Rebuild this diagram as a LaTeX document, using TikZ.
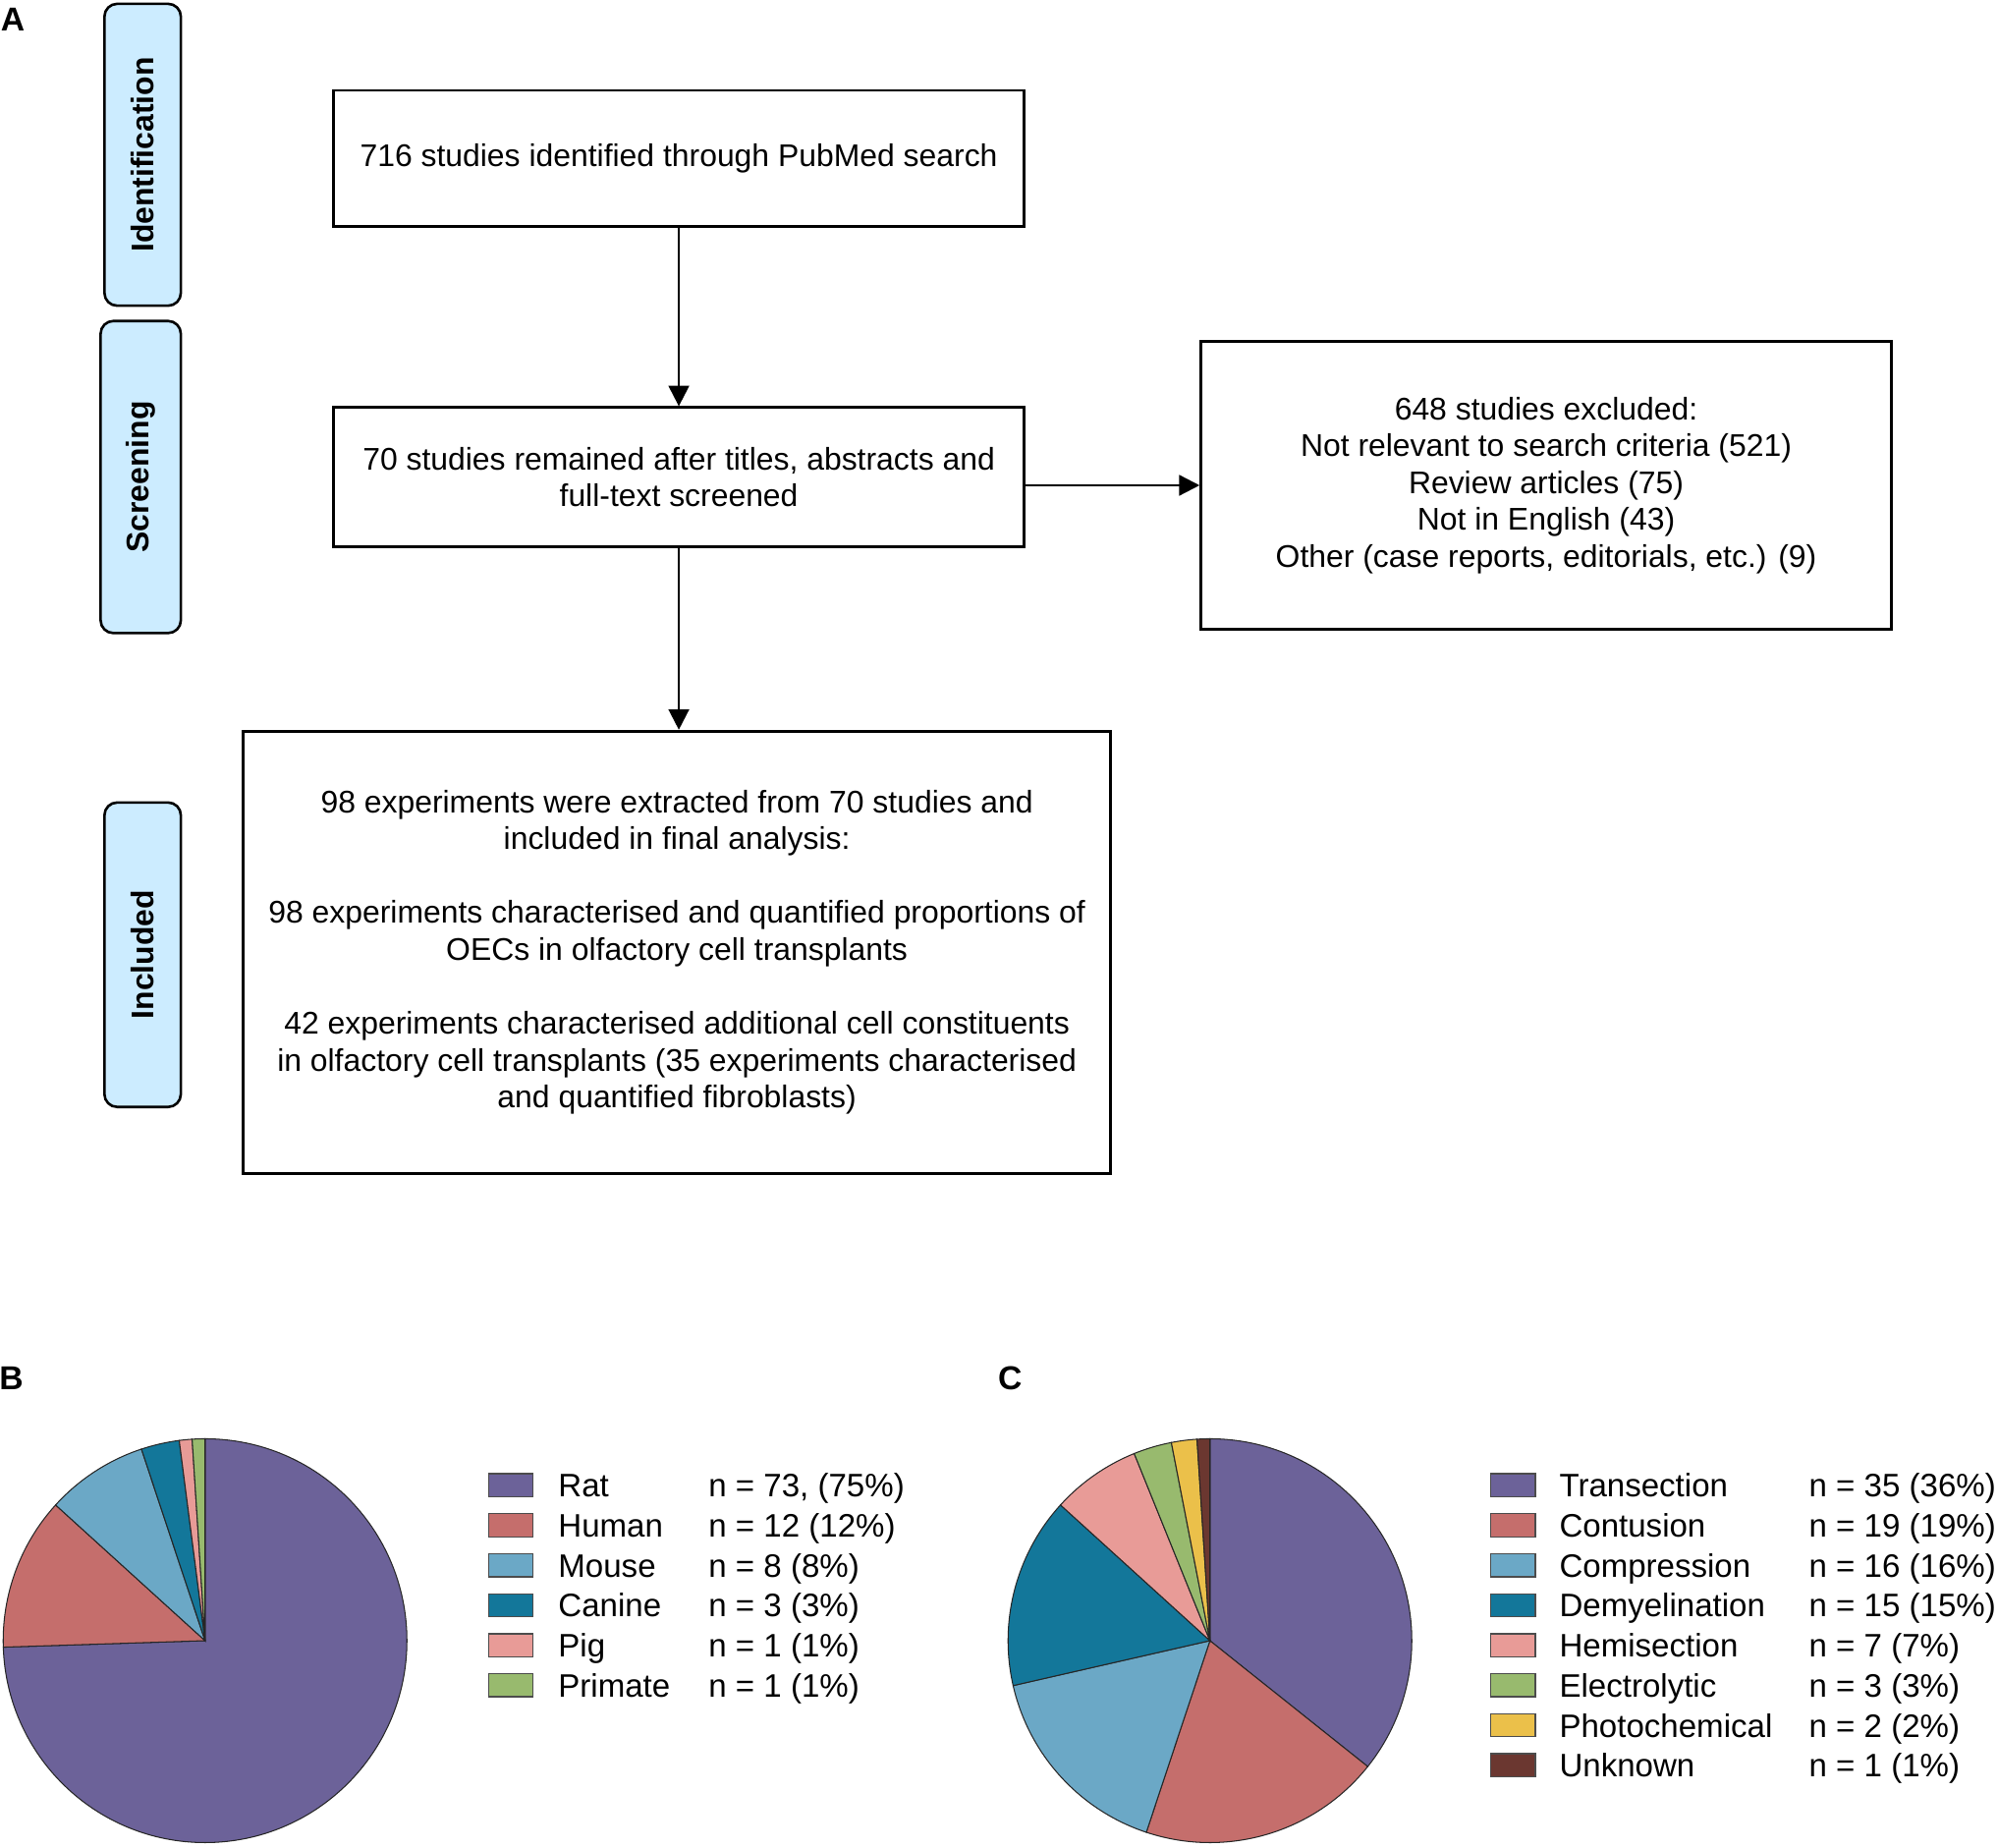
\documentclass[tikz,border=0pt]{standalone}
\usepackage{fontspec}
\setmainfont{Liberation Sans}
\usetikzlibrary{arrows.meta}

\definecolor{tabblue}{RGB}{204,236,255}
\definecolor{ratcol}{RGB}{108,98,153}
\definecolor{humancol}{RGB}{197,110,108}
\definecolor{mousecol}{RGB}{107,168,198}
\definecolor{caninecol}{RGB}{19,119,154}
\definecolor{pigcol}{RGB}{232,155,151}
\definecolor{primatecol}{RGB}{152,186,110}
\definecolor{photocol}{RGB}{235,192,74}
\definecolor{unknowncol}{RGB}{107,55,48}

\begin{document}
\begin{tikzpicture}[x=0.5pt,y=-0.5pt,
    box/.style={draw, line width=1.1pt, align=center, inner sep=0pt,
        font=\fontsize{12.3}{14.5}\selectfont},
    tab/.style={draw, line width=1pt, rounded corners=5pt, fill=tabblue,
        rotate=90, inner sep=0pt, font=\fontsize{12.3}{14.5}\selectfont\bfseries},
    flow/.style={-{Triangle[length=8pt,width=8pt]}, line width=0.9pt},
    slice/.style={draw=black!85, line width=0.4pt},
    key/.style={draw=black!70, line width=0.5pt, minimum width=17.4pt,
        minimum height=9pt, inner sep=0pt},
    lbl/.style={anchor=west, inner sep=0pt, text height=9.2pt, text depth=0pt,
        font=\fontsize{12.75}{15}\selectfont},
    panel/.style={inner sep=0pt, font=\fontsize{13}{15}\selectfont\bfseries}]

    \useasboundingbox (0,0) rectangle (1568,1450);

    % panel letters
    \node[panel] (pA) at (10,15) {A};
    \node[panel] (pB) at (9,1082) {B};
    \node[panel] (pC) at (793,1082) {C};

    % stage tabs
    \node[tab, minimum width=118.5pt, minimum height=30pt] (tabid) at (112,121.5) {Identification};
    \node[tab, minimum width=122.5pt, minimum height=31.5pt] (tabscr) at (110.5,374.5) {Screening};
    \node[tab, minimum width=119.5pt, minimum height=30pt] (tabinc) at (112,749.5) {Included};

    % flow boxes
    \node[box, minimum width=271pt, minimum height=53.5pt] (found) at (533,124.5)
        {716 studies identified through PubMed search};
    \node[box, minimum width=271pt, minimum height=54.5pt] (screened) at (533,374.5)
        {70 studies remained after titles, abstracts and\\full-text screened};
    \node[box, minimum width=271pt, minimum height=113pt] (excluded) at (1214,381)
        {648 studies excluded:\\Not relevant to search criteria (521)\\Review articles (75)\\
         Not in English (43)\\Other (case reports, editorials, etc.) (9)};
    \node[box, minimum width=340.5pt, minimum height=173.5pt] (included) at (531.5,747.5)
        {98 experiments were extracted from 70 studies and\\included in final analysis:\\[14.5pt]
         98 experiments characterised and quantified proportions of\\
         OECs in olfactory cell transplants\\[14.5pt]
         42 experiments characterised additional cell constituents\\
         in olfactory cell transplants (35 experiments characterised\\
         and quantified fibroblasts)};

    % arrows
    \draw[flow] (found.south) -- (screened.north);
    \draw[flow] (screened.east |- excluded.west) -- (excluded.west);
    \draw[flow] (screened.south) -- (screened.south |- included.north);

    % pie B: species
    \begin{scope}[shift={(161,1288)}, x=0.5pt, y=0.5pt]
        \def\r{158.5}
        \filldraw[slice, fill=ratcol] (0,0) -- (90:\r) arc[start angle=90, end angle=-178.16, radius=\r] -- cycle;
        \filldraw[slice, fill=humancol] (0,0) -- (-178.16:\r) arc[start angle=-178.16, end angle=-222.24, radius=\r] -- cycle;
        \filldraw[slice, fill=mousecol] (0,0) -- (-222.24:\r) arc[start angle=-222.24, end angle=-251.63, radius=\r] -- cycle;
        \filldraw[slice, fill=caninecol] (0,0) -- (-251.63:\r) arc[start angle=-251.63, end angle=-262.65, radius=\r] -- cycle;
        \filldraw[slice, fill=pigcol] (0,0) -- (-262.65:\r) arc[start angle=-262.65, end angle=-266.33, radius=\r] -- cycle;
        \filldraw[slice, fill=primatecol] (0,0) -- (-266.33:\r) arc[start angle=-266.33, end angle=-270, radius=\r] -- cycle;
    \end{scope}

    % legend B
    \node[key, fill=ratcol] (kRat) at (401,1166) {};
    \node[lbl] (lRat) at (438,1166) {Rat};
    \node[lbl] (nRat) at (556,1166) {n = 73, (75\%)};
    \node[key, fill=humancol] (kHuman) at (401,1197.4) {};
    \node[lbl] (lHuman) at (438,1197.4) {Human};
    \node[lbl] (nHuman) at (556,1197.4) {n = 12 (12\%)};
    \node[key, fill=mousecol] (kMouse) at (401,1228.8) {};
    \node[lbl] (lMouse) at (438,1228.8) {Mouse};
    \node[lbl] (nMouse) at (556,1228.8) {n = 8 (8\%)};
    \node[key, fill=caninecol] (kCanine) at (401,1260.2) {};
    \node[lbl] (lCanine) at (438,1260.2) {Canine};
    \node[lbl] (nCanine) at (556,1260.2) {n = 3 (3\%)};
    \node[key, fill=pigcol] (kPig) at (401,1291.6) {};
    \node[lbl] (lPig) at (438,1291.6) {Pig};
    \node[lbl] (nPig) at (556,1291.6) {n = 1 (1\%)};
    \node[key, fill=primatecol] (kPrimate) at (401,1323) {};
    \node[lbl] (lPrimate) at (438,1323) {Primate};
    \node[lbl] (nPrimate) at (556,1323) {n = 1 (1\%)};

    % pie C: injury models
    \begin{scope}[shift={(950,1288)}, x=0.5pt, y=0.5pt]
        \def\r{158.5}
        \filldraw[slice, fill=ratcol] (0,0) -- (90:\r) arc[start angle=90, end angle=-38.57, radius=\r] -- cycle;
        \filldraw[slice, fill=humancol] (0,0) -- (-38.57:\r) arc[start angle=-38.57, end angle=-108.37, radius=\r] -- cycle;
        \filldraw[slice, fill=mousecol] (0,0) -- (-108.37:\r) arc[start angle=-108.37, end angle=-167.14, radius=\r] -- cycle;
        \filldraw[slice, fill=caninecol] (0,0) -- (-167.14:\r) arc[start angle=-167.14, end angle=-222.24, radius=\r] -- cycle;
        \filldraw[slice, fill=pigcol] (0,0) -- (-222.24:\r) arc[start angle=-222.24, end angle=-247.96, radius=\r] -- cycle;
        \filldraw[slice, fill=primatecol] (0,0) -- (-247.96:\r) arc[start angle=-247.96, end angle=-258.98, radius=\r] -- cycle;
        \filldraw[slice, fill=photocol] (0,0) -- (-258.98:\r) arc[start angle=-258.98, end angle=-266.33, radius=\r] -- cycle;
        \filldraw[slice, fill=unknowncol] (0,0) -- (-266.33:\r) arc[start angle=-266.33, end angle=-270, radius=\r] -- cycle;
    \end{scope}

    % legend C
    \node[key, fill=ratcol] (kTrans) at (1188,1166) {};
    \node[lbl] (lTrans) at (1224,1166) {Transection};
    \node[lbl] (nTrans) at (1420,1166) {n = 35 (36\%)};
    \node[key, fill=humancol] (kCont) at (1188,1197.4) {};
    \node[lbl] (lCont) at (1224,1197.4) {Contusion};
    \node[lbl] (nCont) at (1420,1197.4) {n = 19 (19\%)};
    \node[key, fill=mousecol] (kComp) at (1188,1228.8) {};
    \node[lbl] (lComp) at (1224,1228.8) {Compression};
    \node[lbl] (nComp) at (1420,1228.8) {n = 16 (16\%)};
    \node[key, fill=caninecol] (kDemy) at (1188,1260.2) {};
    \node[lbl] (lDemy) at (1224,1260.2) {Demyelination};
    \node[lbl] (nDemy) at (1420,1260.2) {n = 15 (15\%)};
    \node[key, fill=pigcol] (kHemi) at (1188,1291.6) {};
    \node[lbl] (lHemi) at (1224,1291.6) {Hemisection};
    \node[lbl] (nHemi) at (1420,1291.6) {n = 7 (7\%)};
    \node[key, fill=primatecol] (kElec) at (1188,1323) {};
    \node[lbl] (lElec) at (1224,1323) {Electrolytic};
    \node[lbl] (nElec) at (1420,1323) {n = 3 (3\%)};
    \node[key, fill=photocol] (kPhoto) at (1188,1354.4) {};
    \node[lbl] (lPhoto) at (1224,1354.4) {Photochemical};
    \node[lbl] (nPhoto) at (1420,1354.4) {n = 2 (2\%)};
    \node[key, fill=unknowncol] (kUnk) at (1188,1385.8) {};
    \node[lbl] (lUnk) at (1224,1385.8) {Unknown};
    \node[lbl] (nUnk) at (1420,1385.8) {n = 1 (1\%)};

\end{tikzpicture}
\end{document}
